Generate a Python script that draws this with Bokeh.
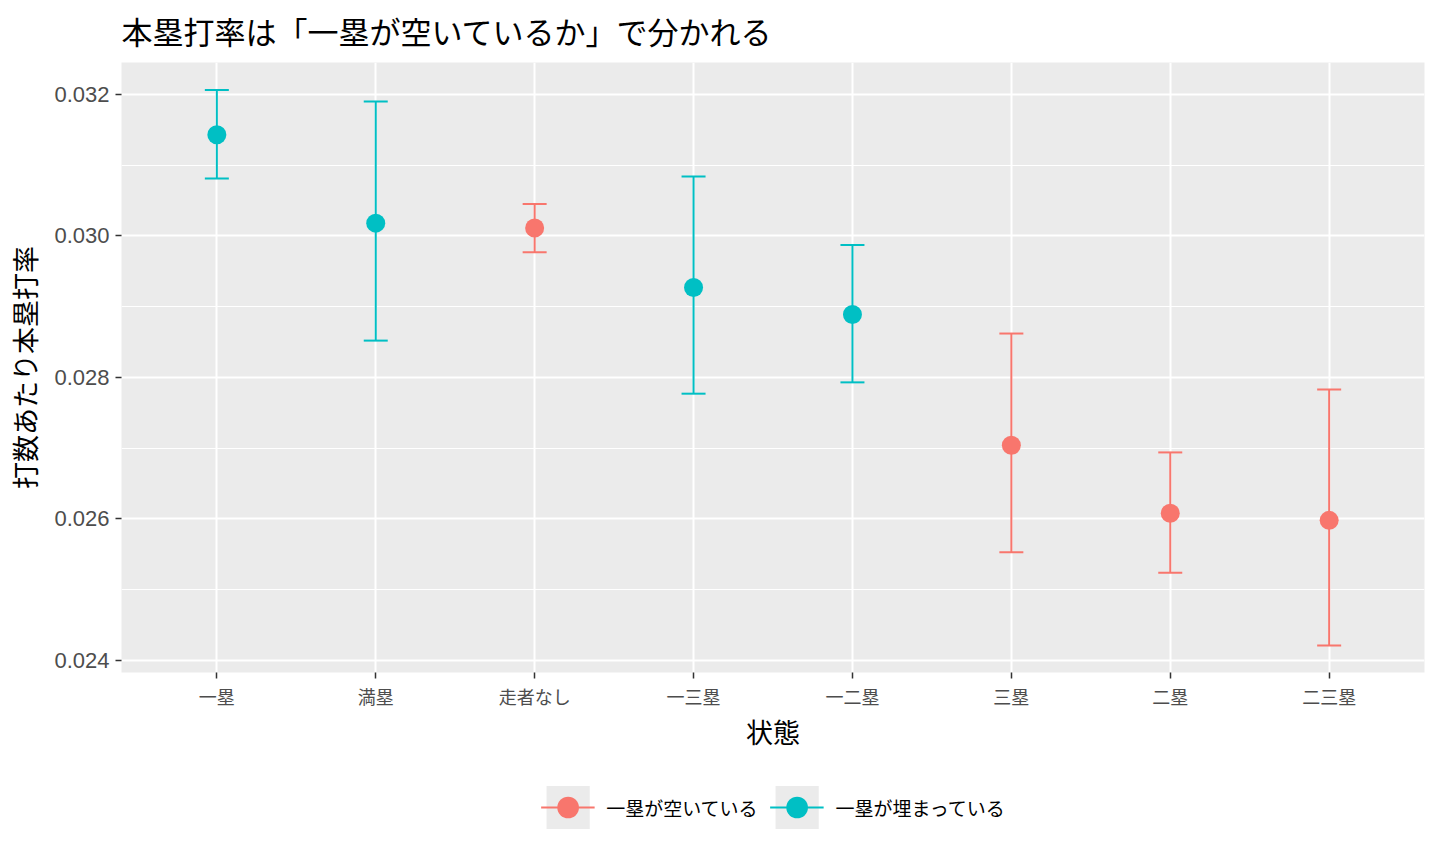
from bokeh.embed import file_html
from bokeh.resources import INLINE
from bokeh.layouts import column
from bokeh.models import (ColumnDataSource, Whisker, TeeHead, Legend, LegendItem,
                          NumeralTickFormatter, FixedTicker, Range1d)
from bokeh.plotting import figure

# data
states = ["一塁", "満塁", "走者なし", "一三塁", "一二塁", "三塁", "二塁", "二三塁"]
rate = [0.03143, 0.03018, 0.03011, 0.02927, 0.02889, 0.02704, 0.02608, 0.02598]
upper = [0.03206, 0.03190, 0.03045, 0.03084, 0.02987, 0.02862, 0.02694, 0.02783]
lower = [0.03081, 0.02852, 0.02977, 0.02777, 0.02793, 0.02553, 0.02524, 0.02421]
first_open = [False, False, True, False, False, True, True, True]

groups = ["一塁が空いている", "一塁が埋まっている"]
colors = ["#F8766D", "#00BFC4"]

JP = "Noto Sans CJK JP"

p = figure(x_range=states, y_range=(0.02383, 0.03245),
           frame_width=1303, frame_height=610,
           min_border_left=121, min_border_right=4, min_border_top=62,
           min_border_bottom=100,
           output_backend="svg", toolbar_location=None,
           title="本塁打率は「一塁が空いているか」で分かれる",
           background_fill_color="#EBEBEB", border_fill_color="white",
           outline_line_color=None)
p.x_range.range_padding = 0.1
p.x_range.range_padding_units = "absolute"

p.title.text_font = JP
p.title.text_font_size = "31px"
p.title.text_font_style = "normal"
p.title.text_color = "black"
p.title.standoff = 15
p.title.vertical_align = "top"

# grid
p.xgrid.grid_line_color = "white"
p.xgrid.grid_line_width = 2
p.ygrid.grid_line_color = "white"
p.ygrid.grid_line_width = 2
p.ygrid.minor_grid_line_color = "white"
p.ygrid.minor_grid_line_width = 1.2

# axes
p.yaxis.ticker = FixedTicker(ticks=[0.024, 0.026, 0.028, 0.030, 0.032],
                             minor_ticks=[0.025, 0.027, 0.029, 0.031])
p.yaxis.formatter = NumeralTickFormatter(format="0.000")
for ax in (p.xaxis, p.yaxis):
    ax.axis_line_color = None
    ax.major_tick_line_color = "#333333"
    ax.major_tick_line_width = 1.5
    ax.major_tick_out = 6
    ax.major_tick_in = 0
    ax.minor_tick_line_color = None
    ax.major_label_text_color = "#4D4D4D"
    ax.axis_label_text_font = JP
    ax.axis_label_text_font_size = "27px"
    ax.axis_label_text_font_style = "normal"
    ax.axis_label_text_color = "black"
p.yaxis.major_label_text_font = "Liberation Sans"
p.yaxis.major_label_text_font_size = "22px"
p.yaxis.major_label_standoff = 6
p.yaxis.axis_label = "打数あたり本塁打率"
p.yaxis.axis_label_standoff = 7
p.xaxis.major_label_text_font = JP
p.xaxis.major_label_text_font_size = "18px"
p.xaxis.major_label_standoff = 4
p.xaxis.axis_label = "状態"
p.xaxis.axis_label_standoff = 0

# legend strip below the chart (its copies of the glyphs fall outside its range)
lg = figure(x_range=p.x_range, y_range=Range1d(1, 2),
            frame_width=1303, frame_height=66,
            min_border_left=121, min_border_right=4, min_border_top=0,
            min_border_bottom=0,
            output_backend="svg", toolbar_location=None,
            background_fill_color="white", border_fill_color="white",
            outline_line_color=None)
lg.axis.visible = False
lg.grid.visible = False

items = []
for g, (name, col) in enumerate(zip(groups, colors)):
    want = (g == 0)
    idx = [i for i, f in enumerate(first_open) if f == want]
    src = ColumnDataSource(data=dict(
        x=[states[i] for i in idx],
        y=[rate[i] for i in idx],
        lo=[lower[i] for i in idx],
        hi=[upper[i] for i in idx],
    ))
    p.segment(x0="x", y0="lo", x1="x", y1="hi", source=src,
              line_color=col, line_width=2)
    caps = Whisker(base="x", upper="hi", lower="lo", source=src,
                   line_color=None,
                   upper_head=TeeHead(size=24, line_color=col, line_width=2),
                   lower_head=TeeHead(size=24, line_color=col, line_width=2))
    p.add_layout(caps)
    p.scatter(x="x", y="y", source=src, size=19, fill_color=col,
              line_color=None)

    bg = lg.quad(left="x", right="x", top="hi", bottom="lo", source=src,
                 fill_color="#EBEBEB", line_color=None)
    stem = lg.segment(x0="x", y0="lo", x1="x", y1="hi", source=src,
                      line_color=col, line_width=2)
    pts = lg.scatter(x="x", y="y", source=src, size=19, fill_color=col,
                     line_color=None)
    items.append(LegendItem(label=name, renderers=[bg, stem, pts]))

legend = Legend(items=items, orientation="horizontal", location="top_center",
                glyph_width=54, glyph_height=54, label_standoff=12, spacing=12,
                label_text_font=JP, label_text_font_size="19px",
                label_text_color="black", background_fill_alpha=0,
                border_line_color=None, margin=8, padding=0)
lg.add_layout(legend)

open("out.html", "w").write(file_html(column(p, lg), INLINE))
